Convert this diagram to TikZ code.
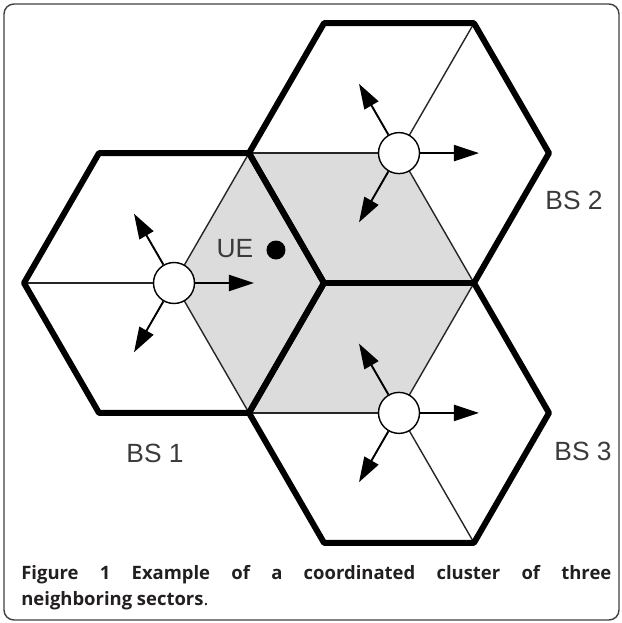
\documentclass[tikz,border=0pt]{standalone}
\usepackage{fontspec}
\setmainfont{Liberation Sans}
\newfontfamily\capfont{Open Sans}
\usetikzlibrary{arrows.meta,calc}
\definecolor{sectorgray}{HTML}{DCDCDC}
\definecolor{labelgray}{HTML}{3A3A3A}
\definecolor{captext}{HTML}{231F20}
\tikzset{
  hexborder/.style={line width=3.4pt, line join=round},
  sectorline/.style={line width=0.8pt, black!85},
  station/.style={circle, draw, line width=0.8pt, fill=white, minimum size=0.82cm, inner sep=0},
  beam/.style={line width=1.1pt, -{Triangle[length=0.5cm,width=0.32cm]}},
  lbl/.style={text=labelgray, font=\fontsize{15}{15}\selectfont, inner sep=0}
}

\begin{document}
\begin{tikzpicture}
            \useasboundingbox (-3.48,-6.80) rectangle (8.96,5.66);
            \draw[rounded corners=0.2cm, line width=0.8pt, black!75] (-3.40,-6.74) rectangle (8.90,5.58);

            \coordinate (h1) at (0,0);
            \coordinate (h2) at (4.5,2.598);
            \coordinate (h3) at (4.5,-2.598);

            \fill[sectorgray] (h1) -- +(300:3) -- +(0:3) -- +(60:3) -- cycle;
            \fill[sectorgray] (h2) -- +(180:3) -- +(240:3) -- +(300:3) -- cycle;
            \fill[sectorgray] (h3) -- +(60:3) -- +(120:3) -- +(180:3) -- cycle;

            \foreach \h in {h1,h2,h3} {
                \foreach \a in {60,180,300}
                    \draw[sectorline] (\h) -- +(\a:3);
                \draw[hexborder] (\h) +(0:3) -- +(60:3) -- +(120:3) -- +(180:3) -- +(240:3) -- +(300:3) -- cycle;
            }

            \node[station] (s1) at (h1) {};
            \node[station] (s2) at (h2) {};
            \node[station] (s3) at (h3) {};
            \foreach \s in {s1,s2,s3}
                \foreach \a in {0,120,240}
                    \draw[beam] (\s) -- ($(\s)+(\a:1.6)$);

            \node[lbl] (ue) at (1.22,0.68) {UE};
            \node[circle, fill=black, minimum size=0.38cm, inner sep=0] (uedot) at (2.04,0.66) {};
            \node[lbl] (bs1) at (-0.38,-3.40) {BS 1};
            \node[lbl] (bs2) at (8.0,1.66) {BS 2};
            \node[lbl] (bs3) at (8.18,-3.36) {BS 3};

            \node[anchor=north west, text width=11.8cm, align=justify, inner sep=0, text=captext,
                  font=\capfont\fontsize{10.5}{14.6}\selectfont] (cap) at (-3.06,-5.64)
                  {\textbf{Figure 1} \textbf{Example of a coordinated cluster of three\linebreak neighboring sectors}.};
        \end{tikzpicture}
\end{document}
